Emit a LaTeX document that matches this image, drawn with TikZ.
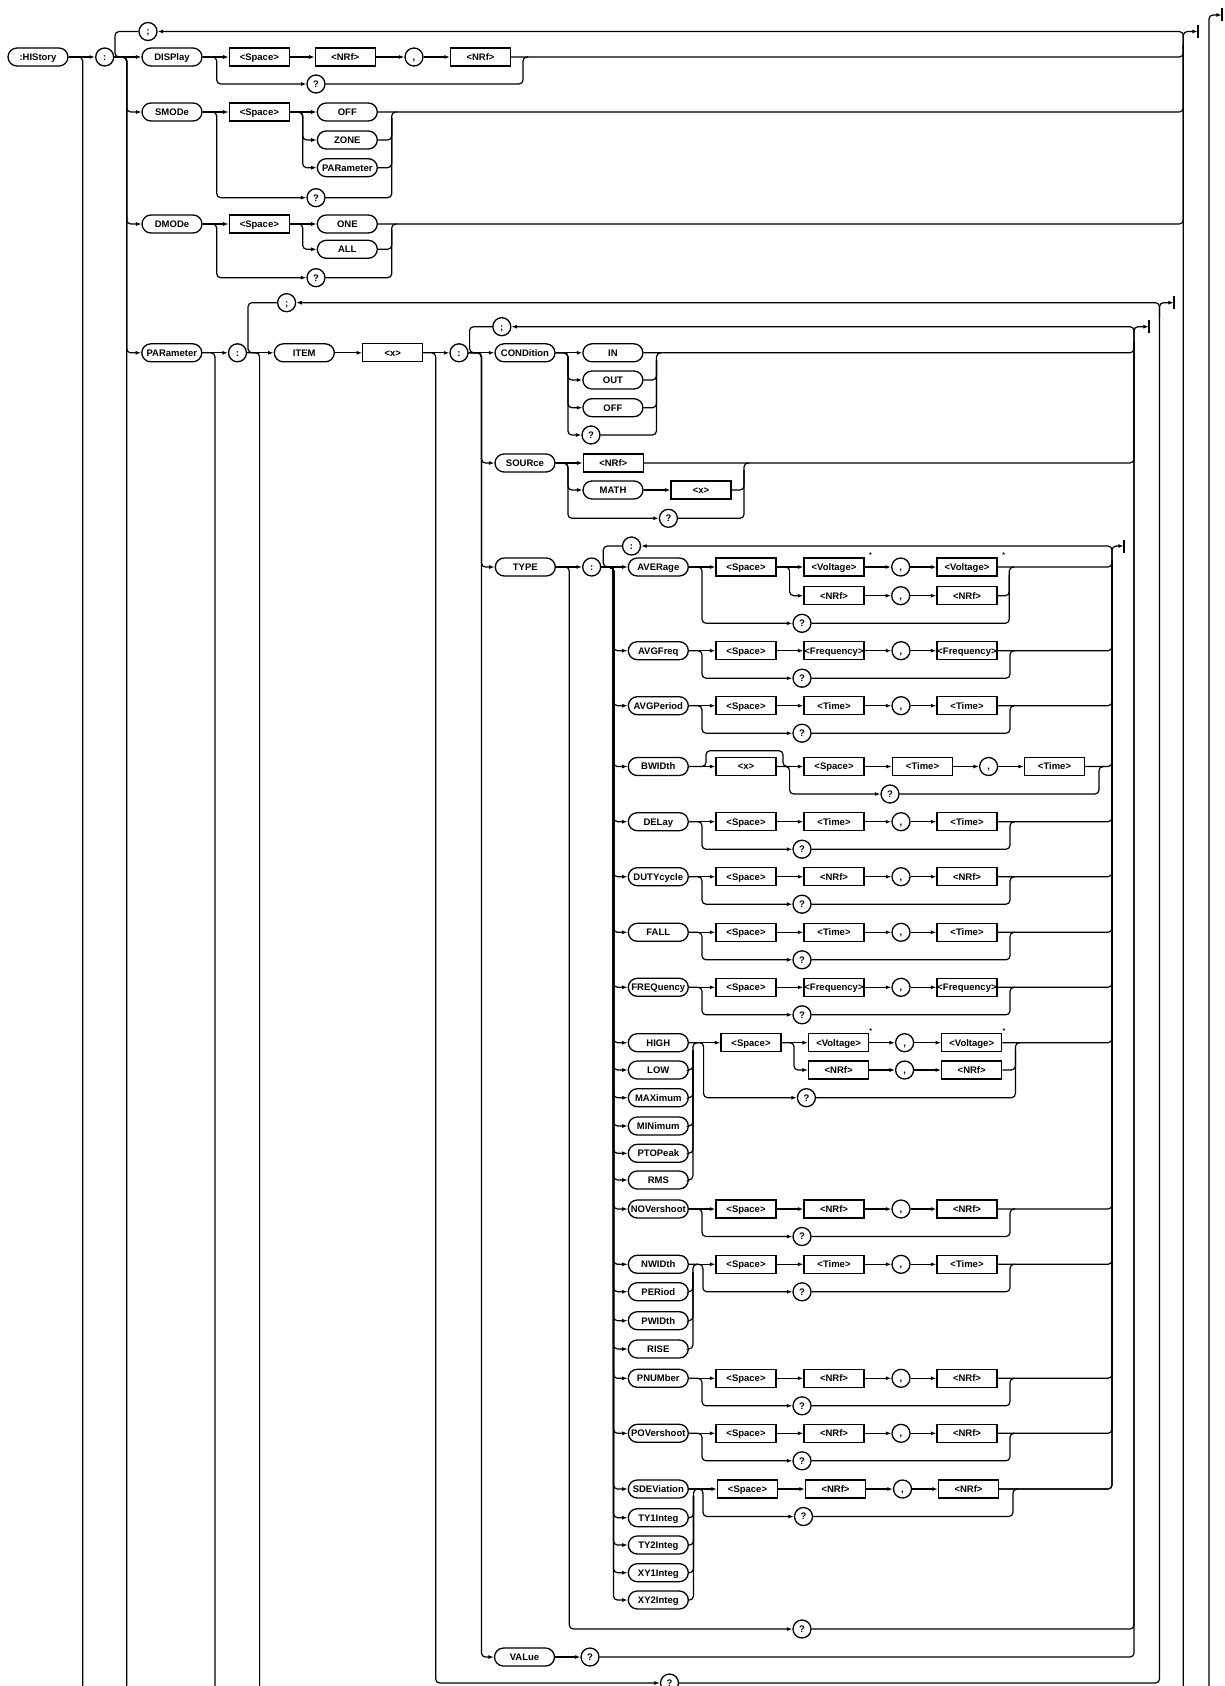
\documentclass[tikz,border=0pt]{standalone}
\usepackage{fontspec}
\setmainfont{Liberation Sans}
\usetikzlibrary{arrows.meta}
\newcommand\fnt{\bfseries\fontsize{9.5}{11}\selectfont}
\tikzset{
  ln/.style={line width=1.2pt, rounded corners=4pt},
  ar/.style={ln, -{Latex[length=5.5pt,width=4pt]}},
  kw/.style={draw, line width=1.3pt, rounded corners=9pt, minimum width=60pt, minimum height=18pt, inner sep=0pt, text height=6.8pt, text depth=0pt, font=\fnt},
  bx/.style={draw, line width=1.3pt, minimum width=60pt, minimum height=18pt, inner sep=0pt, text height=6.8pt, text depth=0pt, font=\fnt},
  ci/.style={draw, circle, line width=1.3pt, minimum size=18pt, inner sep=0pt, text height=6.8pt, text depth=0pt, font=\fnt},
  ast/.style={font=\bfseries\fontsize{7}{8}\selectfont, inner sep=0pt},
  endbar/.style={inner sep=0pt, minimum size=0pt},
  barline/.style={line width=1.5pt},
}
\newcommand\tbar[1]{\draw[barline] ([yshift=6.5pt]#1.center) -- ([yshift=-6.5pt]#1.center);}
% item of TYPE list
\newcommand\itm[3]{\node[kw] (#1) at (658.3,#3) {#2};
  \draw[ar] (c4.east) -| (613.5,#3) -- (#1.west);}
% standard row: name, y, dx, label2, label3, branch x, merge x
\newcommand\strow[7]{%
  \node[bx] (#1s) at (746+#3,#2) {<Space>};
  \node[bx] (#1b) at (834+#3,#2) {#4};
  \node[ci] (#1c) at (901+#3,#2) {,};
  \node[bx] (#1d) at (967+#3,#2) {#5};
  \node[ci] (#1q) at (802+#3,#2+27.5) {?};
  \draw[ar] (#1.east) -- (#1s.west);
  \draw[ar] (#1s.east) -- (#1b.west);
  \draw[ar] (#1b.east) -- (#1c.west);
  \draw[ar] (#1c.east) -- (#1d.west);
  \draw[ar] (#1.east) -| (#6,#2+27.5) -- (#1q.west);
  \draw[ln] (#1q.east) -| (#7,#2) -- ++(5,0);
  \draw[ln] (#1d.east) -| (1112,560);
}
\begin{document}
\begin{tikzpicture}[x=1pt,y=-1pt]
\useasboundingbox (0,0) rectangle (1224,1686);
\fill[white] (0,0) rectangle (1224,1686);
\clip (0,0) rectangle (1224,1686);

% ---------- top level ----------
\node[kw] (his) at (38,57) {:HIStory};
\node[ci] (c1) at (104.7,57) {:};
\node[ci] (s1) at (148,31.5) {;};
\node[kw] (disp) at (172,57) {DISPlay};
\node[bx] (dsp) at (259.3,57) {<Space>};
\node[bx] (dn1) at (345.3,57) {<NRf>};
\node[ci] (dc) at (414,57) {,};
\node[bx] (dn2) at (480.5,57) {<NRf>};
\node[ci] (dq) at (316,84) {?};
\node[kw] (smode) at (172,112) {SMODe};
\node[bx] (ssp) at (259.3,112) {<Space>};
\node[kw] (soff) at (347.3,112) {OFF};
\node[kw] (szone) at (347.3,140) {ZONE};
\node[kw] (spar) at (347.3,167.7) {PARameter};
\node[ci] (sq) at (316,197.7) {?};
\node[kw] (dmode) at (172,224) {DMODe};
\node[bx] (dmsp) at (259.3,224) {<Space>};
\node[kw] (done) at (347.3,224) {ONE};
\node[kw] (dall) at (347.3,249.3) {ALL};
\node[ci] (dmq) at (316,277.7) {?};
\node[endbar] (t0) at (1222,15) {};
\node[endbar] (t1) at (1198,31.5) {};
\coordinate (r0b) at (1209,1700);
\coordinate (r1b) at (1183.3,1700);
\coordinate (r1m) at (1183.3,45);
\coordinate (ab) at (82.7,1700);
\coordinate (bb) at (126.7,1700);

\draw[ar] (his.east) -- (c1.west);
\draw[ln] (his.east) -| (ab);
\draw[ar] (c1.east) -- (disp.west);
\draw[ln] (c1.east) -| (bb);
\draw[ln] (s1.west) -| (115,57) -- (126.7,57);
\draw[ar] (r1b) |- (s1.east);
\draw[ar] (r1m) |- (t1.west);
\draw[ar] (r0b) |- (t0.west);
\tbar{t0}
\tbar{t1}

% DISPlay
\draw[ar] (disp.east) -- (dsp.west);
\draw[ar] (dsp.east) -- (dn1.west);
\draw[ar] (dn1.east) -- (dc.west);
\draw[ar] (dc.east) -- (dn2.west);
\draw[ar] (disp.east) -| (216.7,84) -- (dq.west);
\draw[ln] (dq.east) -| (523,57) -- ++(5,0);
\draw[ln] (dn2.east) -| (r1m);

% SMODe
\draw[ar] (c1.east) -| (126.7,112) -- (smode.west);
\draw[ar] (smode.east) -- (ssp.west);
\draw[ar] (ssp.east) -- (soff.west);
\draw[ar] (ssp.east) -| (302.7,140) -- (szone.west);
\draw[ar] (ssp.east) -| (302.7,167.7) -- (spar.west);
\draw[ar] (smode.east) -| (216.7,197.7) -- (sq.west);
\draw[ln] (sq.east) -| (391.7,112) -- ++(5,0);
\draw[ln] (szone.east) -| (391.7,118);
\draw[ln] (spar.east) -| (391.7,118);
\draw[ln] (soff.east) -| (r1m);

% DMODe
\draw[ar] (c1.east) -| (126.7,224) -- (dmode.west);
\draw[ar] (dmode.east) -- (dmsp.west);
\draw[ar] (dmsp.east) -- (done.west);
\draw[ar] (dmsp.east) -| (302.7,249.3) -- (dall.west);
\draw[ar] (dmode.east) -| (216.7,277.7) -- (dmq.west);
\draw[ln] (dmq.east) -| (391.7,224) -- ++(5,0);
\draw[ln] (dall.east) -| (391.7,230);
\draw[ln] (done.east) -| (r1m);

% ---------- PARameter ----------
\node[kw] (par) at (171.8,352.8) {PARameter};
\node[ci] (c2) at (237.5,352.8) {:};
\node[ci] (s2) at (286.6,302.7) {;};
\node[kw] (item) at (304.3,352.8) {ITEM};
\node[bx] (px) at (392.8,352.8) {<x>};
\node[ci] (c3) at (459,352.8) {:};
\node[ci] (s3) at (501.8,326.7) {;};
\node[kw] (cond) at (525,352.8) {CONDition};
\node[kw] (cin) at (612.9,352.8) {IN};
\node[kw] (cout) at (612.9,380) {OUT};
\node[kw] (coff) at (612.9,407.7) {OFF};
\node[ci] (cq) at (591,435) {?};
\node[kw] (src) at (525,463) {SOURce};
\node[bx] (snrf) at (613.3,463) {<NRf>};
\node[kw] (smath) at (613,490) {MATH};
\node[bx] (sx) at (701,490) {<x>};
\node[ci] (srq) at (668.4,518.3) {?};
\node[kw] (type) at (525.3,567) {TYPE};
\node[ci] (c4) at (591.7,567) {:};
\node[ci] (s4) at (631.5,546) {:};
\node[kw] (val) at (524.5,1657) {VALue};
\node[ci] (vq) at (590,1657) {?};
\node[ci] (tq) at (802,1629) {?};
\node[ci] (bq) at (669.5,1683) {?};
\node[endbar] (tP) at (1174,302.7) {};
\node[endbar] (tC) at (1149,326.7) {};
\node[endbar] (tT) at (1124,546) {};
\tbar{tP}
\tbar{tC}
\tbar{tT}

\draw[ar] (c1.east) -| (126.7,352.8) -- (par.west);
\draw[ar] (par.east) -- (c2.west);
\draw[ln] (par.east) -| (215,1700);
\draw[ar] (c2.east) -- (item.west);
\draw[ln] (c2.east) -| (259.6,1700);
\draw[ln] (s2.west) -| (248,352.8) -- (259.6,352.8);
\draw[ar] (item.east) -- (px.west);
\draw[ar] (px.east) -- (c3.west);
\draw[ar] (px.east) -| (435.7,1683) -- (bq.west);
\draw[ar] (bq.east) -| (1159.5,302.7) -- (s2.east);
\draw[ar] (1159.5,318) |- (tP.west);
\draw[ar] (c3.east) -- (cond.west);
\draw[ln] (s3.west) -| (469.6,352.8) -- (481.4,352.8);
\draw[ar] (c3.east) -| (481.4,463) -- (src.west);
\draw[ar] (c3.east) -| (481.4,567) -- (type.west);
\draw[ar] (c3.east) -| (481.4,1657) -- (val.west);
\draw[ar] (val.east) -- (vq.west);
\draw[ar] (vq.east) -| (1134,326.7) -- (s3.east);
\draw[ar] (1134,342) |- (tC.west);

% CONDition
\draw[ar] (cond.east) -- (cin.west);
\draw[ar] (cond.east) -| (567.9,380) -- (cout.west);
\draw[ar] (cond.east) -| (567.9,407.7) -- (coff.west);
\draw[ar] (cond.east) -| (567.9,435) -- (cq.west);
\draw[ln] (cq.east) -| (656.5,352.8) -- ++(5,0);
\draw[ln] (cout.east) -| (656.5,360);
\draw[ln] (coff.east) -| (656.5,360);
\draw[ln] (cin.east) -| (1134,342);

% SOURce
\draw[ar] (src.east) -- (snrf.west);
\draw[ar] (src.east) -| (567.9,490) -- (smath.west);
\draw[ar] (src.east) -| (567.9,518.3) -- (srq.west);
\draw[ar] (smath.east) -- (sx.west);
\draw[ln] (srq.east) -| (744,463) -- ++(5,0);
\draw[ln] (sx.east) -| (744,470);
\draw[ln] (snrf.east) -| (1134,342);

% TYPE
\draw[ar] (type.east) -- (c4.west);
\draw[ar] (type.east) -| (569.3,1629) -- (tq.west);
\draw[ln] (tq.east) -| (1134,342);
\draw[ln] (s4.west) -| (603.3,567) -- (613.5,567);
\draw[ar] (1112,560) |- (tT.west);

% AVERage
\node[kw] (aver) at (658.3,567) {AVERage};
\draw[ar] (c4.east) -- (aver.west);
\node[bx] (asp) at (746,567) {<Space>};
\node[bx] (av1) at (834,567) {<Voltage>};
\node[ci] (avc) at (900.7,567) {,};
\node[bx] (av2) at (967,567) {<Voltage>};
\node[bx] (an1) at (834,595.7) {<NRf>};
\node[ci] (anc) at (900.7,595.7) {,};
\node[bx] (an2) at (967,595.7) {<NRf>};
\node[ci] (aq) at (802,623.3) {?};
\node[ast] (aa1) at (870.5,555) {*};
\node[ast] (aa2) at (1003.6,555) {*};
\draw[ar] (aver.east) -- (asp.west);
\draw[ar] (asp.east) -- (av1.west);
\draw[ar] (asp.east) -| (789.6,595.7) -- (an1.west);
\draw[ar] (av1.east) -- (avc.west);
\draw[ar] (avc.east) -- (av2.west);
\draw[ar] (an1.east) -- (anc.west);
\draw[ar] (anc.east) -- (an2.west);
\draw[ar] (aver.east) -| (702,623.3) -- (aq.west);
\draw[ln] (aq.east) -| (1009.3,567) -- ++(5,0);
\draw[ln] (an2.east) -| (1009.3,575);
\draw[ln] (av2.east) -| (1112,560);

% AVGFreq, AVGPeriod
\itm{agf}{AVGFreq}{650.7}
\strow{agf}{650.7}{0}{<Frequency>}{<Frequency>}{702}{1010}
\itm{agp}{AVGPeriod}{705.7}
\strow{agp}{705.7}{0}{<Time>}{<Time>}{702}{1010}

% BWIDth
\itm{bw}{BWIDth}{766.5}
\node[bx] (bx1) at (746,766.5) {<x>};
\node[bx] (bsp) at (834,766.5) {<Space>};
\node[bx] (bt1) at (922.5,766.5) {<Time>};
\node[ci] (bc) at (988.6,766.5) {,};
\node[bx] (bt2) at (1054.5,766.5) {<Time>};
\node[ci] (bq2) at (890,794) {?};
\draw[ar] (bw.east) -- (bx1.west);
\draw[ln] (bw.east) -| (706,750.7) -| (783,766.5) -- (789.6,766.5);
\draw[ar] (bx1.east) -- (bsp.west);
\draw[ar] (bx1.east) -| (789.6,794) -- (bq2.west);
\draw[ar] (bsp.east) -- (bt1.west);
\draw[ar] (bt1.east) -- (bc.west);
\draw[ar] (bc.east) -- (bt2.west);
\draw[ln] (bq2.east) -| (1099,766.5) -- ++(5,0);
\draw[ln] (bt2.east) -| (1112,560);

% DELay .. FREQuency
\itm{del}{DELay}{821.7}
\strow{del}{821.7}{0}{<Time>}{<Time>}{702}{1010}
\itm{dut}{DUTYcycle}{876.7}
\strow{dut}{876.7}{0}{<NRf>}{<NRf>}{702}{1010}
\itm{fal}{FALL}{932.3}
\strow{fal}{932.3}{0}{<Time>}{<Time>}{702}{1010}
\itm{frq}{FREQuency}{987.3}
\strow{frq}{987.3}{0}{<Frequency>}{<Frequency>}{702}{1010}

% HIGH group
\itm{high}{HIGH}{1042.7}
\itm{low}{LOW}{1070}
\itm{maxi}{MAXimum}{1097.7}
\itm{mini}{MINimum}{1126}
\itm{ptop}{PTOPeak}{1153.3}
\itm{rms}{RMS}{1180}
\draw[ln] (rms.east) -| (692.9,1042.7) -- ++(5,0);
\foreach \n in {low,maxi,mini,ptop} {\draw[ln] (\n.east) -| (692.9,1050);}
\node[bx] (hsp) at (751,1042.7) {<Space>};
\node[bx] (hv1) at (838.6,1042.7) {<Voltage>};
\node[ci] (hc) at (904.6,1042.7) {,};
\node[bx] (hv2) at (971.7,1042.7) {<Voltage>};
\node[bx] (hn1) at (838.6,1070) {<NRf>};
\node[ci] (hnc) at (904.6,1070) {,};
\node[bx] (hn2) at (971.7,1070) {<NRf>};
\node[ci] (hq) at (806.4,1097.7) {?};
\node[ast] (ha1) at (870.7,1031) {*};
\node[ast] (ha2) at (1004,1031) {*};
\draw[ar] (high.east) -- (hsp.west);
\draw[ar] (high.east) -| (703.6,1097.7) -- (hq.west);
\draw[ar] (hsp.east) -- (hv1.west);
\draw[ar] (hsp.east) -| (794,1070) -- (hn1.west);
\draw[ar] (hv1.east) -- (hc.west);
\draw[ar] (hc.east) -- (hv2.west);
\draw[ar] (hn1.east) -- (hnc.west);
\draw[ar] (hnc.east) -- (hn2.west);
\draw[ln] (hq.east) -| (1015.4,1042.7) -- ++(5,0);
\draw[ln] (hn2.east) -| (1015.4,1050);
\draw[ln] (hv2.east) -| (1112,560);

% NOVershoot
\itm{nov}{NOVershoot}{1209}
\strow{nov}{1209}{0}{<NRf>}{<NRf>}{702}{1010}

% NWIDth group
\itm{nwid}{NWIDth}{1264.3}
\itm{peri}{PERiod}{1291.7}
\itm{pwid}{PWIDth}{1320.7}
\itm{rise}{RISE}{1349}
\draw[ln] (rise.east) -| (692.9,1264.3) -- ++(5,0);
\foreach \n in {peri,pwid} {\draw[ln] (\n.east) -| (692.9,1272);}
\strow{nwid}{1264.3}{0}{<Time>}{<Time>}{702.9}{1010}

% PNUMber, POVershoot
\itm{pnum}{PNUMber}{1378.3}
\strow{pnum}{1378.3}{0}{<NRf>}{<NRf>}{702}{1010}
\itm{pov}{POVershoot}{1433.3}
\strow{pov}{1433.3}{0}{<NRf>}{<NRf>}{702}{1010}

% SDEViation group
\itm{sdev}{SDEViation}{1489}
\itm{tyi}{TY1Integ}{1517.7}
\itm{tyii}{TY2Integ}{1545}
\itm{xyi}{XY1Integ}{1572.7}
\itm{xyii}{XY2Integ}{1600}
\draw[ln] (xyii.east) -| (693.5,1489) -- ++(5,0);
\foreach \n in {tyi,tyii,xyi} {\draw[ln] (\n.east) -| (693.5,1496);}
\strow{sdev}{1489}{1.5}{<NRf>}{<NRf>}{703}{1012.9}
\draw[ar] (sdevd.east) -| (1112,546) -- (s4.east);
\end{tikzpicture}
\end{document}
